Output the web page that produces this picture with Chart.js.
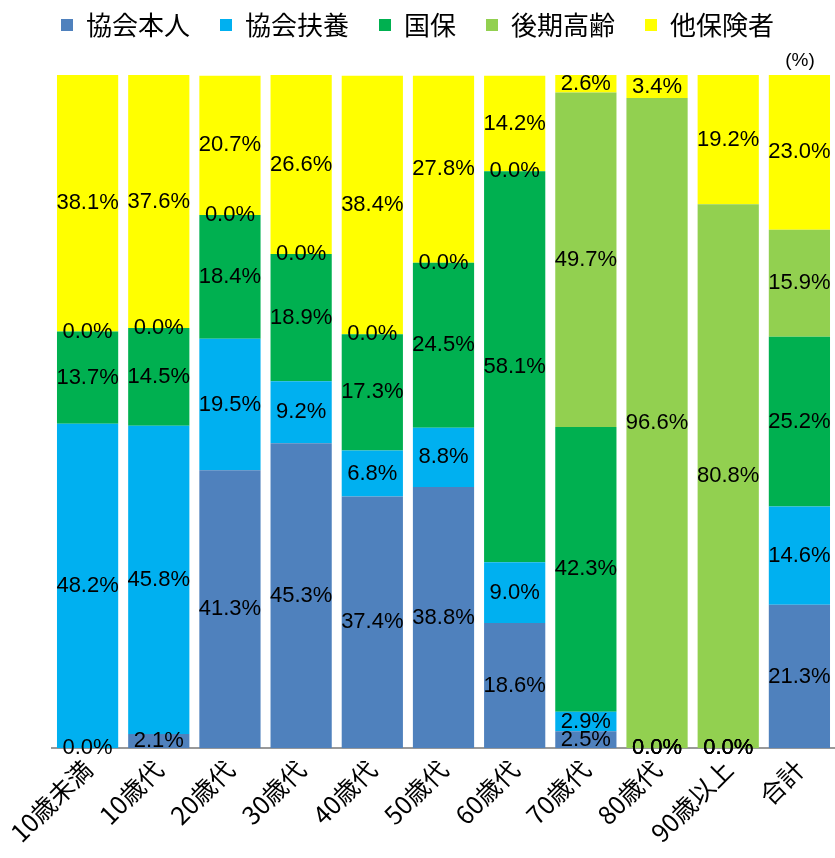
<!DOCTYPE html>
<html>
<head>
<meta charset="utf-8">
<script src="https://cdn.jsdelivr.net/npm/chart.js@4"></script>
<style>
    html, body { margin: 0; padding: 0; background: #fff; }
    #wrap { width: 835px; height: 858px; position: relative; }
</style>
</head>
<body>
<div id="wrap"><canvas id="chart"></canvas></div>
<script>
// 年齢階級ごとの加入者構成割合 (%)
const categories = ['10歳未満', '10歳代', '20歳代', '30歳代', '40歳代', '50歳代', '60歳代', '70歳代', '80歳代', '90歳以上', '合計'];
const seriesNames = ['協会本人', '協会扶養', '国保', '後期高齢', '他保険者'];

const kyokaiHonnin = [0.0, 2.1, 41.3, 45.3, 37.4, 38.8, 18.6, 2.5, 0.0, 0.0, 21.3];
const kyokaiFuyo   = [48.2, 45.8, 19.5, 9.2, 6.8, 8.8, 9.0, 2.9, 0.0, 0.0, 14.6];
const kokuho       = [13.7, 14.5, 18.4, 18.9, 17.3, 24.5, 58.1, 42.3, 0.0, 0.0, 25.2];
const kokiKorei    = [0.0, 0.0, 0.0, 0.0, 0.0, 0.0, 0.0, 49.7, 96.6, 80.8, 15.9];
const taHokensha   = [38.1, 37.6, 20.7, 26.6, 38.4, 27.8, 14.2, 2.6, 3.4, 19.2, 23.0];

const colors = ['#4f81bd', '#00b0f0', '#00b050', '#92d050', '#ffff00'];
const seriesValues = [kyokaiHonnin, kyokaiFuyo, kokuho, kokiKorei, taHokensha];

const numFont = '"Liberation Sans", "Noto Sans CJK JP", sans-serif';
const jpFont = '"Noto Sans CJK JP", sans-serif';

// 各セグメントの中央に値を描く
const valueLabels = {
    id: 'valueLabels',
    afterDatasetsDraw(chart) {
        const ctx = chart.ctx;
        ctx.save();
        ctx.font = '22px ' + numFont;
        ctx.fillStyle = '#000';
        ctx.textAlign = 'center';
        ctx.textBaseline = 'middle';
        chart.data.datasets.forEach((ds, i) => {
            const meta = chart.getDatasetMeta(i);
            meta.data.forEach((bar, j) => {
                const y = (bar.y + bar.base) / 2;
                ctx.fillText(ds.data[j].toFixed(1) + '%', bar.x, y);
            });
        });
        ctx.restore();
    }
};

// 右上の単位表示
const unitLabel = {
    id: 'unitLabel',
    afterDraw(chart) {
        const ctx = chart.ctx;
        ctx.save();
        ctx.font = '19px ' + numFont;
        ctx.fillStyle = '#000';
        ctx.textAlign = 'center';
        ctx.textBaseline = 'middle';
        ctx.fillText('(%)', 800, 61);
        ctx.restore();
    }
};

// 凡例の下に余白を足す
const legendGap = {
    id: 'legendGap',
    beforeInit(chart) {
        const fit = chart.legend.fit;
        chart.legend.fit = function () {
            fit.bind(chart.legend)();
            this.height += 27;
        };
    }
};

const ctx = document.getElementById('chart').getContext('2d');
new Chart(ctx, {
    type: 'bar',
    data: {
        labels: categories,
        datasets: seriesNames.map((name, i) => ({
            label: name,
            data: seriesValues[i],
            backgroundColor: colors[i],
            borderWidth: 0,
            categoryPercentage: 1.0,
            barPercentage: 0.86
        }))
    },
    options: {
        responsive: true,
        maintainAspectRatio: false,
        animation: false,
        layout: {
            padding: { left: 0, right: 0, top: -18, bottom: 4 }
        },
        scales: {
            x: {
                stacked: true,
                grid: { display: false, drawTicks: false },
                border: { display: true, color: '#999', width: 2 },
                ticks: {
                    color: '#000',
                    font: { family: jpFont, size: 25 },
                    minRotation: 45,
                    maxRotation: 45,
                    padding: 6
                }
            },
            y: {
                stacked: true,
                min: 0,
                max: 100,
                grid: { display: false, drawTicks: false },
                border: { display: false },
                ticks: { display: false },
                // 目盛りは出さずに左の余白だけ取る
                afterFit(scale) {
                    scale.width = 52;
                }
            }
        },
        plugins: {
            legend: {
                position: 'top',
                labels: {
                    color: '#000',
                    font: { family: jpFont, size: 26 },
                    boxWidth: 12,
                    boxHeight: 12,
                    padding: 30
                }
            },
            tooltip: { enabled: false }
        }
    },
    plugins: [valueLabels, unitLabel, legendGap]
});
</script>
</body>
</html>
